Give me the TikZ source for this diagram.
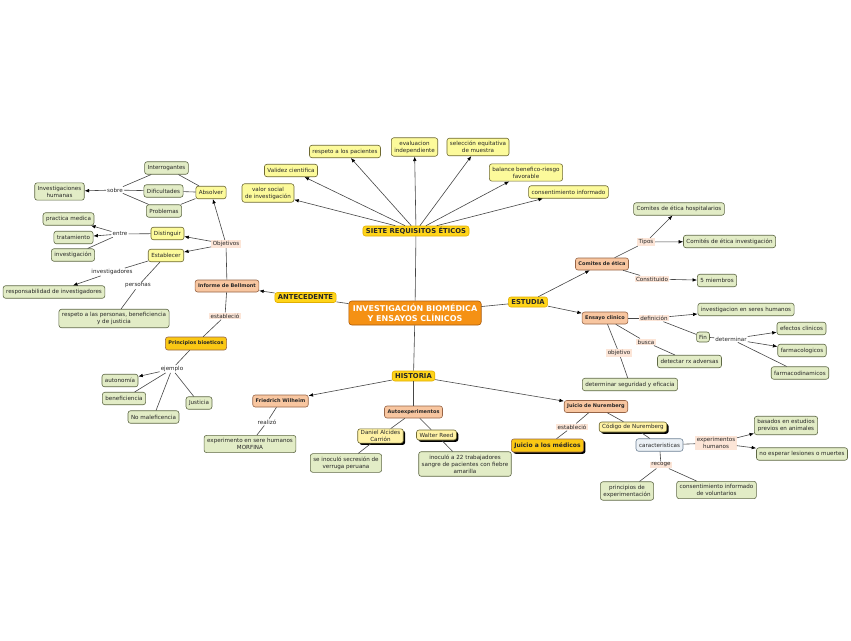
\documentclass[tikz,border=0pt]{standalone}
\usepackage{fontspec}
\setmainfont{DejaVu Sans}
\usetikzlibrary{arrows.meta,shadows}
\definecolor{cgreen}{RGB}{226,236,198}
\definecolor{cgreenb}{RGB}{95,105,70}
\definecolor{cyellow}{RGB}{252,250,155}
\definecolor{cyellowb}{RGB}{110,105,50}
\definecolor{cgold}{RGB}{255,212,25}
\definecolor{cgoldb}{RGB}{225,175,0}
\definecolor{cgold2}{RGB}{250,200,20}
\definecolor{cpeach}{RGB}{248,198,160}
\definecolor{cpeachb}{RGB}{150,100,70}
\definecolor{clink}{RGB}{252,229,215}
\definecolor{corange}{RGB}{245,145,20}
\definecolor{corangeb}{RGB}{170,90,10}
\definecolor{cline}{RGB}{70,70,70}
\definecolor{cblue}{RGB}{236,241,246}
\definecolor{cblueb}{RGB}{110,130,150}
\definecolor{cshy}{RGB}{255,242,165}
\tikzset{
  basen/.style={rounded corners=2.5pt, line width=0.6pt, align=center,
    inner xsep=3pt, inner ysep=3pt, minimum height=12.5pt,
    font=\fontsize{5.6}{7}\selectfont, text=black!85},
  gnode/.style={basen, draw=cgreenb, fill=cgreen},
  ynode/.style={basen, draw=cyellowb, fill=cyellow},
  pnode/.style={basen, draw=cpeachb, fill=cpeach, font=\fontsize{5}{6}\selectfont\bfseries, inner ysep=2pt, minimum height=12pt},
  goldl/.style={basen, draw=cgoldb, fill=cgold, font=\fontsize{6.8}{8}\selectfont\bfseries, inner ysep=1pt, minimum height=10pt},
  gldn/.style={basen, draw=cpeachb, fill=cgold2, font=\fontsize{5}{6}\selectfont\bfseries, inner ysep=2pt, minimum height=13pt},
  shd/.style={drop shadow={shadow xshift=1.8pt, shadow yshift=-1.8pt, fill=black, opacity=1}},
  snode/.style={basen, draw=cyellowb, fill=cshy, shd, inner ysep=1.5pt, minimum height=10pt},
  bnode/.style={basen, draw=cblueb, fill=cblue},
  mainn/.style={basen, draw=corangeb, fill=corange, text=white, rounded corners=3pt,
    font=\fontsize{8}{9.5}\selectfont\bfseries, inner xsep=4pt, minimum height=24pt},
  lk/.style={fill=clink, inner xsep=1.5pt, inner ysep=1.2pt, align=center,
    font=\fontsize{5.6}{7}\selectfont, text=black!85},
  lkw/.style={fill=white, inner xsep=1pt, inner ysep=1pt, align=center,
    font=\fontsize{5.6}{7}\selectfont, text=black!85},
  ln/.style={draw=cline, line width=0.6pt},
  ar/.style={ln, -{Latex[length=4.5pt,width=3.6pt,color=black]}}
}
\begin{document}
\begin{tikzpicture}[x=1pt,y=-1pt]
\useasboundingbox[fill=white] (0,0) rectangle (851,640);
% central
\node[mainn] (main) at (415,313) {INVESTIGACIÓN BIOMÉDICA\\Y ENSAYOS CLÍNICOS};
% siete requisitos
\node[goldl] (siete) at (416,231) {SIETE REQUISITOS ÉTICOS};
\node[ynode] (valor) at (268,193) {valor social\\de investigación};
\node[ynode] (validez) at (291,170.5) {Validez cientifica};
\node[ynode] (respp) at (345,151.5) {respeto a los pacientes};
\node[ynode] (evalu) at (414.5,147) {evaluacion\\independiente};
\node[ynode] (selec) at (478,147) {selección equitativa\\de muestra};
\node[ynode] (balan) at (526,172.5) {balance benefico-riesgo\\favorable};
\node[ynode] (consi) at (568.5,192) {consentimiento informado};
% antecedente
\node[goldl] (antec) at (305.5,297.5) {ANTECEDENTE};
\node[pnode] (inform) at (227,286) {Informe de Bellmont};
\node[lk] (objet) at (226,244) {Objetivos};
\node[ynode] (absol) at (211,192.5) {Absolver};
\node[gnode] (interr) at (166.5,168) {Interrogantes};
\node[gnode] (dific) at (163.5,191) {Dificultades};
\node[gnode] (probl) at (164,211) {Problemas};
\node[lkw] (sobre) at (115,190) {sobre};
\node[gnode] (invhum) at (59.5,191.5) {Investigaciones\\humanas};
\node[ynode] (disti) at (167.5,233.5) {Distinguir};
\node[lkw] (entre) at (120,234) {entre};
\node[gnode] (pract) at (68.5,219) {practica medica};
\node[gnode] (trata) at (73.5,237.5) {tratamiento};
\node[gnode] (invest) at (73,255) {investigación};
\node[ynode] (estab) at (166,255.5) {Establecer};
\node[lkw] (invgad) at (112,272) {investigadores};
\node[gnode] (respon) at (54,292) {responsabilidad de investigadores};
\node[lkw] (perso) at (138,286) {personas};
\node[gnode] (respet) at (114,318.5) {respeto a las personas, beneficiencia\\y de justicia};
\node[lk] (estab1) at (225,316) {estableció};
\node[gldn] (princ) at (196,343.5) {Principios bioeticos};
\node[lkw] (ejemp) at (172,369) {ejemplo};
\node[gnode] (auton) at (120,380.5) {autonomía};
\node[gnode] (benef) at (124,398.5) {beneficiencia};
\node[gnode] (nomal) at (153.5,417) {No maleficencia};
\node[gnode] (justi) at (199,403) {Justicia};
% historia
\node[goldl] (histo) at (413.5,376) {HISTORIA};
\node[pnode] (fried) at (280.5,401) {Friedrich Wilheim};
\node[lkw] (reali) at (267,422) {realizó};
\node[gnode] (exper) at (250,444) {experimento en sere humanos\\MORFINA};
\node[pnode] (autoe) at (413.5,412) {Autoexperimentos};
\node[snode] (danie) at (380.5,436) {Daniel Alcides\\Carrión};
\node[snode] (walte) at (436.5,435) {Walter Reed};
\node[gnode] (seino) at (346,463) {se inoculó secresión de\\verruga peruana};
\node[gnode] (inocu) at (465,464) {inoculó a 22 trabajadores\\sangre de pacientes con fiebre\\amarilla};
\node[pnode] (juicn) at (596,406.5) {Juicio de Nuremberg};
\node[lk] (estab2) at (572,427) {estableció};
\node[gldn, shd, font=\fontsize{6}{7}\selectfont\bfseries] (juicm) at (547.5,445.5) {Juicio a los médicos};
\node[snode] (codig) at (633,427) {Código de Nuremberg};
\node[bnode] (carac) at (659.5,445) {caracteristicas};
\node[lk] (exphu) at (716,443) {experimentos\\humanos};
\node[gnode] (basad) at (786,425.5) {basados en estudios\\previos en animales};
\node[gnode] (noesp) at (802,454) {no esperar lesiones o muertes};
\node[lk] (recog) at (661,465) {recoge};
\node[gnode] (princ2) at (627,491) {principios de\\experimentación};
\node[gnode] (conse2) at (716.5,490) {consentimiento informado\\de voluntarios};
% estudia
\node[goldl] (estud) at (528,302) {ESTUDIA};
\node[pnode] (comit) at (602,264) {Comites de ética};
\node[pnode] (ensay) at (605,318) {Ensayo clinico};
\node[gnode] (cehos) at (679,209) {Comites de ética hospitalarios};
\node[lk] (tipos) at (646,242) {Tipos};
\node[gnode] (ceinv) at (729.5,241.5) {Comités de ética investigación};
\node[lk] (const) at (652,279) {Constituido};
\node[gnode] (miemb) at (717,280.5) {5 miembros};
\node[lk] (defin) at (654,318) {definición};
\node[gnode] (invsh) at (746,309.5) {investigacion en seres humanos};
\node[gnode, inner xsep=2.5pt, inner ysep=1.5pt, minimum height=10pt] (fin) at (703,337) {Fin};
\node[lkw] (deter) at (731,339) {determinar};
\node[gnode] (efect) at (801.5,328.5) {efectos clinicos};
\node[gnode] (farma) at (802,350.5) {farmacologicos};
\node[gnode] (farmd) at (800,373) {farmacodinamicos};
\node[lk] (busca) at (646,342) {busca};
\node[gnode] (detec) at (689.5,361.5) {detectar rx adversas};
\node[lk] (objt2) at (619,353) {objetivo};
\node[gnode] (detse) at (630,384.5) {determinar seguridad y eficacia};
% ---------- connectors ----------
\draw[ln] (main) -- (siete);
\foreach \t in {valor,validez,respp,evalu,selec,balan,consi}
  \draw[ar] (siete) -- (\t);
\draw[ln] (main) -- (antec);
\draw[ar] (antec) -- (inform);
\draw[ln] (inform) -- (objet);
\draw[ar] (objet) -- (absol);
\draw[ar] (objet) -- (disti);
\draw[ar] (objet) -- (estab);
\draw[ln] (absol) -- (interr);
\draw[ln] (absol) -- (dific);
\draw[ln] (absol) -- (probl);
\draw[ln] (interr) -- (sobre);
\draw[ln] (dific) -- (sobre);
\draw[ln] (probl) -- (sobre);
\draw[ar] (sobre) -- (invhum);
\draw[ln] (disti) -- (entre);
\draw[ar] (entre) -- (pract);
\draw[ar] (entre) -- (trata);
\draw[ln] (entre) -- (invest);
\draw[ln] (estab) -- (invgad);
\draw[ar] (invgad) -- (respon);
\draw[ln] (estab) -- (perso);
\draw[ln] (perso) -- (respet);
\draw[ln] (inform) -- (estab1);
\draw[ln] (estab1) -- (princ);
\draw[ln] (princ) -- (ejemp);
\draw[ar] (ejemp) -- (auton);
\draw[ln] (ejemp) -- (benef);
\draw[ln] (ejemp) -- (nomal);
\draw[ln] (ejemp) -- (justi);
\draw[ln] (main) -- (histo);
\draw[ar] (histo) -- (fried);
\draw[ln] (fried) -- (reali);
\draw[ln] (reali) -- (exper);
\draw[ln] (histo) -- (autoe);
\draw[ln] (autoe) -- (danie);
\draw[ln] (autoe) -- (walte);
\draw[ln] (danie) -- (seino);
\draw[ln] (walte) -- (inocu);
\draw[ar] (histo) -- (juicn);
\draw[ln] (juicn) -- (estab2);
\draw[ln] (estab2) -- (juicm);
\draw[ln] (juicn) -- (codig);
\draw[ln] (codig) -- (carac);
\draw[ln] (carac) -- (exphu);
\draw[ar] (exphu) -- (basad);
\draw[ar] (exphu) -- (noesp);
\draw[ln] (carac) -- (recog);
\draw[ln] (recog) -- (princ2);
\draw[ln] (recog) -- (conse2);
\draw[ln] (main) -- (estud);
\draw[ar] (estud) -- (comit);
\draw[ar] (estud) -- (ensay);
\draw[ln] (comit) -- (tipos);
\draw[ar] (tipos) -- (cehos);
\draw[ar] (tipos) -- (ceinv);
\draw[ln] (comit) -- (const);
\draw[ar] (const) -- (miemb);
\draw[ln] (ensay) -- (defin);
\draw[ar] (defin) -- (invsh);
\draw[ln] (defin) -- (fin);
\draw[ln] (fin) -- (deter);
\draw[ar] (deter) -- (efect);
\draw[ar] (deter) -- (farma);
\draw[ln] (deter) -- (farmd);
\draw[ln] (ensay) -- (busca);
\draw[ln] (busca) -- (detec);
\draw[ln] (ensay) -- (objt2);
\draw[ln] (objt2) -- (detse);
\end{tikzpicture}
\end{document}
